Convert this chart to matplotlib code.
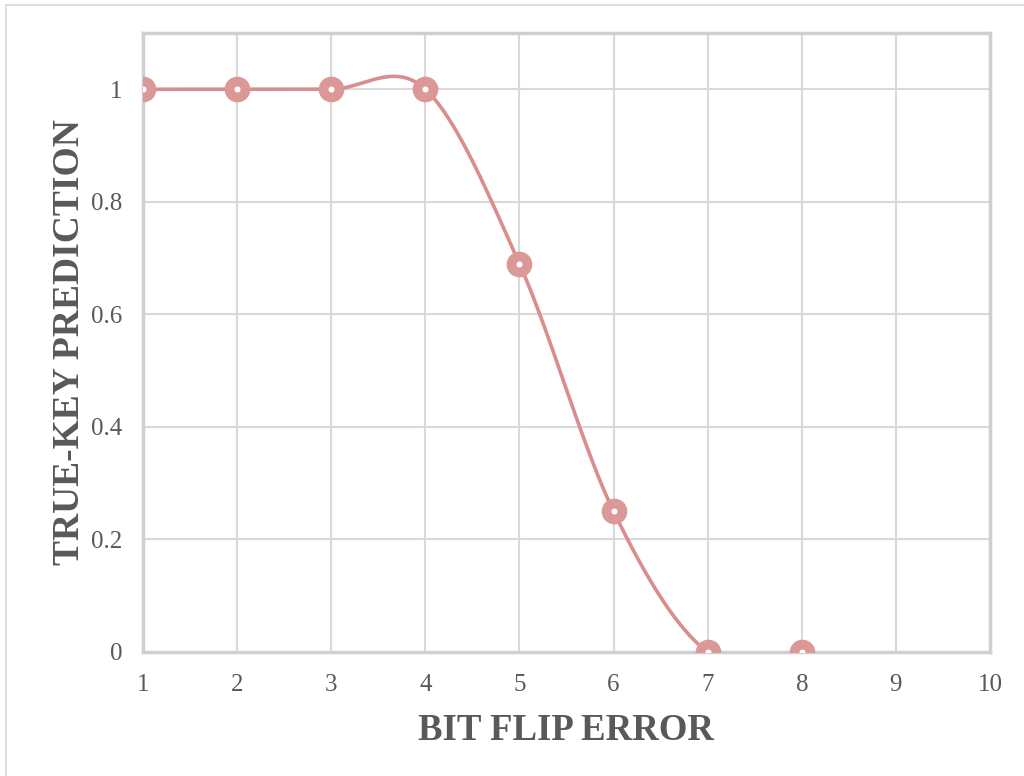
import matplotlib.pyplot as plt
import numpy as np
from matplotlib.lines import Line2D

bit_flips = [1, 2, 3, 4, 5, 6, 7, 8]
true_key = [1.0, 1.0, 1.0, 1.0, 0.69, 0.25, 0.0, 0.0]
x_ticks = [1, 2, 3, 4, 5, 6, 7, 8, 9, 10]
y_ticks = [0, 0.2, 0.4, 0.6, 0.8, 1.0]
y_tick_labels = ['0', '0.2', '0.4', '0.6', '0.8', '1']

line_color = '#d98e8d'
marker_color = '#db9897'
text_gray = '#595959'
grid_gray = '#d9d9d9'


def excel_smooth(xs, ys, n=60):
    # bezier segments with catmull-rom style control points (like excel's smoothed line)
    pts = np.column_stack([xs, ys]).astype(float)
    out = []
    for i in range(len(pts) - 1):
        p0 = pts[max(i - 1, 0)]
        p1 = pts[i]
        p2 = pts[i + 1]
        p3 = pts[min(i + 2, len(pts) - 1)]
        c1 = p1 + (p2 - p0) / 6
        c2 = p2 - (p3 - p1) / 6
        t = np.linspace(0, 1, n)[:, None]
        seg = ((1 - t) ** 3) * p1 + 3 * ((1 - t) ** 2) * t * c1 + 3 * (1 - t) * t ** 2 * c2 + t ** 3 * p2
        out.append(seg if i == 0 else seg[1:])
    out = np.vstack(out)
    return out[:, 0], out[:, 1]


plt.rcParams['font.family'] = ['Liberation Serif', 'DejaVu Serif']

fig = plt.figure(figsize=(10.24, 7.76), dpi=100)
ax = fig.add_axes([143 / 1024, 1 - 652 / 776, (990 - 143) / 1024, (652 - 33) / 776])

sx, sy = excel_smooth(bit_flips, true_key)
ax.plot(sx, sy, color=line_color, lw=2.6, solid_capstyle='round', zorder=3)
ax.plot(bit_flips, true_key, linestyle='none', marker='o', markersize=11.5,
        markerfacecolor='white', markeredgecolor=marker_color, markeredgewidth=7, zorder=4)

ax.set_xlim(1, 10)
ax.set_ylim(0, 1.1)
ax.set_xticks(x_ticks)
ax.set_yticks(y_ticks)
ax.set_yticklabels(y_tick_labels)
ax.tick_params(length=0, labelsize=18, labelcolor=text_gray)
ax.tick_params(axis='x', pad=16)
ax.tick_params(axis='y', pad=15)
ax.grid(True, color=grid_gray, lw=1.5)
ax.set_axisbelow(True)
for s in ax.spines.values():
    s.set_color('#d0d0d0')
    s.set_linewidth(2.5)

ax.set_xlabel('BIT FLIP ERROR', fontsize=26.5, fontweight='bold', color=text_gray, labelpad=12)
ax.set_ylabel('TRUE-KEY PREDICTION', fontsize=27, fontweight='bold', color=text_gray, labelpad=3)

# outer chart border (left and top edges)
fig.add_artist(Line2D([6 / 1024, 6 / 1024], [0, 1 - 5 / 776], transform=fig.transFigure, color='#d9d9d9', lw=1.2))
fig.add_artist(Line2D([6 / 1024, 1], [1 - 5 / 776, 1 - 5 / 776], transform=fig.transFigure, color='#d9d9d9', lw=1.2))

fig.savefig('out.png', dpi=100)
